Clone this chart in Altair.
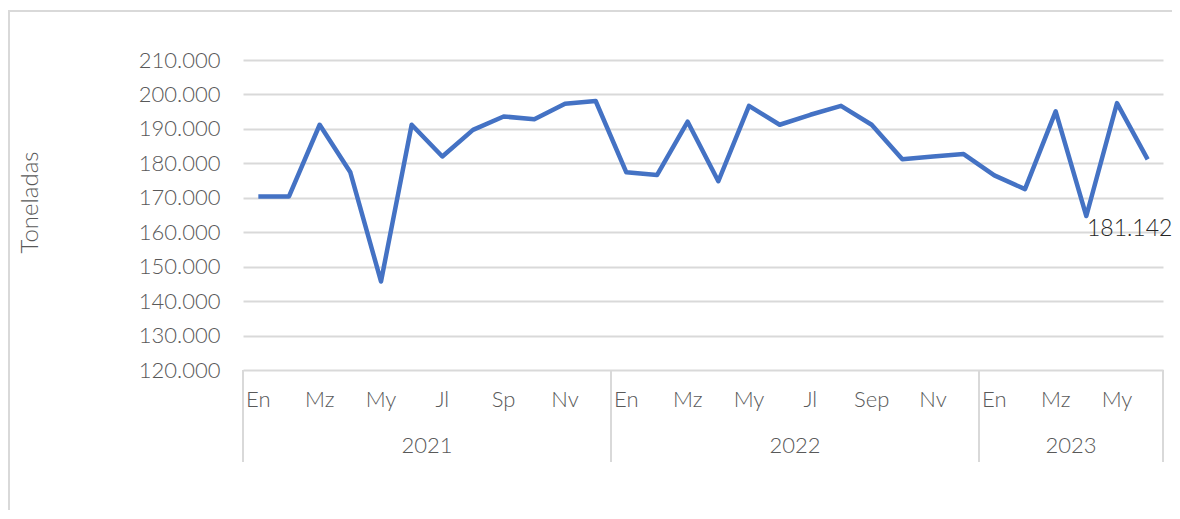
import altair as alt
import pandas as pd

month_labels = ["En", "", "Mz", "", "My", "", "Jl", "", "Sp", "", "Nv", "",
                "En", "", "Mz", "", "My", "", "Jl", "", "Sep", "", "Nv", "",
                "En", "", "Mz", "", "My", ""]
years = ["2021"] * 12 + ["2022"] * 12 + ["2023"] * 6
values = [170400, 170400, 191200, 177400, 145700, 191200, 182000, 189700, 193600, 192800, 197300, 198100,
          177400, 176600, 192100, 174800, 196700, 191200, 194100, 196700, 191200, 181200, 182000, 182700,
          176500, 172500, 195100, 164700, 197500, 181142]
last_label = "181.142"

FONT = "Lato"
FW = 300
W, H = 920, 310

df = pd.DataFrame({
    "idx": [i + 0.5 for i in range(len(values))],
    "mes": month_labels,
    "anio": years,
    "valor": values,
})

grp = df.groupby("anio")["idx"]
year_df = pd.DataFrame({
    "anio": list(grp.min().index),
    "mid": list(((grp.min() - 0.5) + (grp.max() + 0.5)) / 2),
})
sep_vals = sorted(set(list(grp.min() - 0.5) + list(grp.max() + 0.5)))
sep_df = pd.DataFrame({"s": sep_vals})

xs = alt.Scale(domain=[0, len(values)], nice=False, zero=False)
ys = alt.Scale(domain=[120000, 210000], nice=False, zero=False)

border = alt.Chart(pd.DataFrame({"a": [0]})).mark_rect(
    fill="white", fillOpacity=0, stroke="#d9d9d9", strokeWidth=2
).encode(x=alt.value(-234), x2=alt.value(980), y=alt.value(-49), y2=alt.value(500))

line = alt.Chart(df).mark_line(color="#4472C4", strokeWidth=4.5, strokeJoin="round").encode(
    x=alt.X("idx:Q", scale=xs, axis=None),
    y=alt.Y("valor:Q", scale=ys, title="Toneladas",
            axis=alt.Axis(values=list(range(120000, 210001, 10000)),
                          labelExpr="replace(format(datum.value, ',.0f'), ',', '.')",
                          labelOverlap=False,
                          domain=False, ticks=False, labelPadding=23,
                          labelFontSize=22, labelColor="#595959", labelFont=FONT,
                          labelFontWeight=FW,
                          gridColor="#d9d9d9", gridWidth=2,
                          titleFontSize=24, titleColor="#595959", titleFont=FONT,
                          titleFontWeight=FW, titleAngle=270,
                          titleX=-213, titleY=142, titleAlign="center",
                          titleBaseline="middle")),
)

last = alt.Chart(df.tail(1).assign(lbl=last_label)).mark_text(
    font=FONT, fontSize=23, fontWeight=FW, color="#262626", dx=-18, dy=70,
    align="center", baseline="middle"
).encode(x=alt.X("idx:Q", scale=xs, axis=None),
         y=alt.Y("valor:Q", scale=ys, axis=None), text="lbl:N")

months_t = alt.Chart(df).mark_text(
    font=FONT, fontSize=22, fontWeight=FW, color="#595959", align="center", baseline="middle"
).encode(x=alt.X("idx:Q", scale=xs, axis=None), y=alt.value(H + 30), text="mes:N")

years_t = alt.Chart(year_df).mark_text(
    font=FONT, fontSize=22, fontWeight=FW, color="#595959", align="center", baseline="middle"
).encode(x=alt.X("mid:Q", scale=xs, axis=None), y=alt.value(H + 76), text="anio:N")

seps = alt.Chart(sep_df).mark_rule(color="#d9d9d9", strokeWidth=2).encode(
    x=alt.X("s:Q", scale=xs, axis=None), y=alt.value(H), y2=alt.value(H + 92)
)

chart = alt.layer(border, line, seps, months_t, years_t, last).properties(
    width=W, height=H,
    background="white",
    autosize=alt.AutoSizeParams(type="none"),
    padding={"left": 235, "top": 52, "right": 9, "bottom": 140},
).resolve_axis(y="independent", x="independent").configure_view(strokeWidth=0, stroke="transparent")

chart.save("out.html", embed_options={"renderer": "svg", "actions": False})
